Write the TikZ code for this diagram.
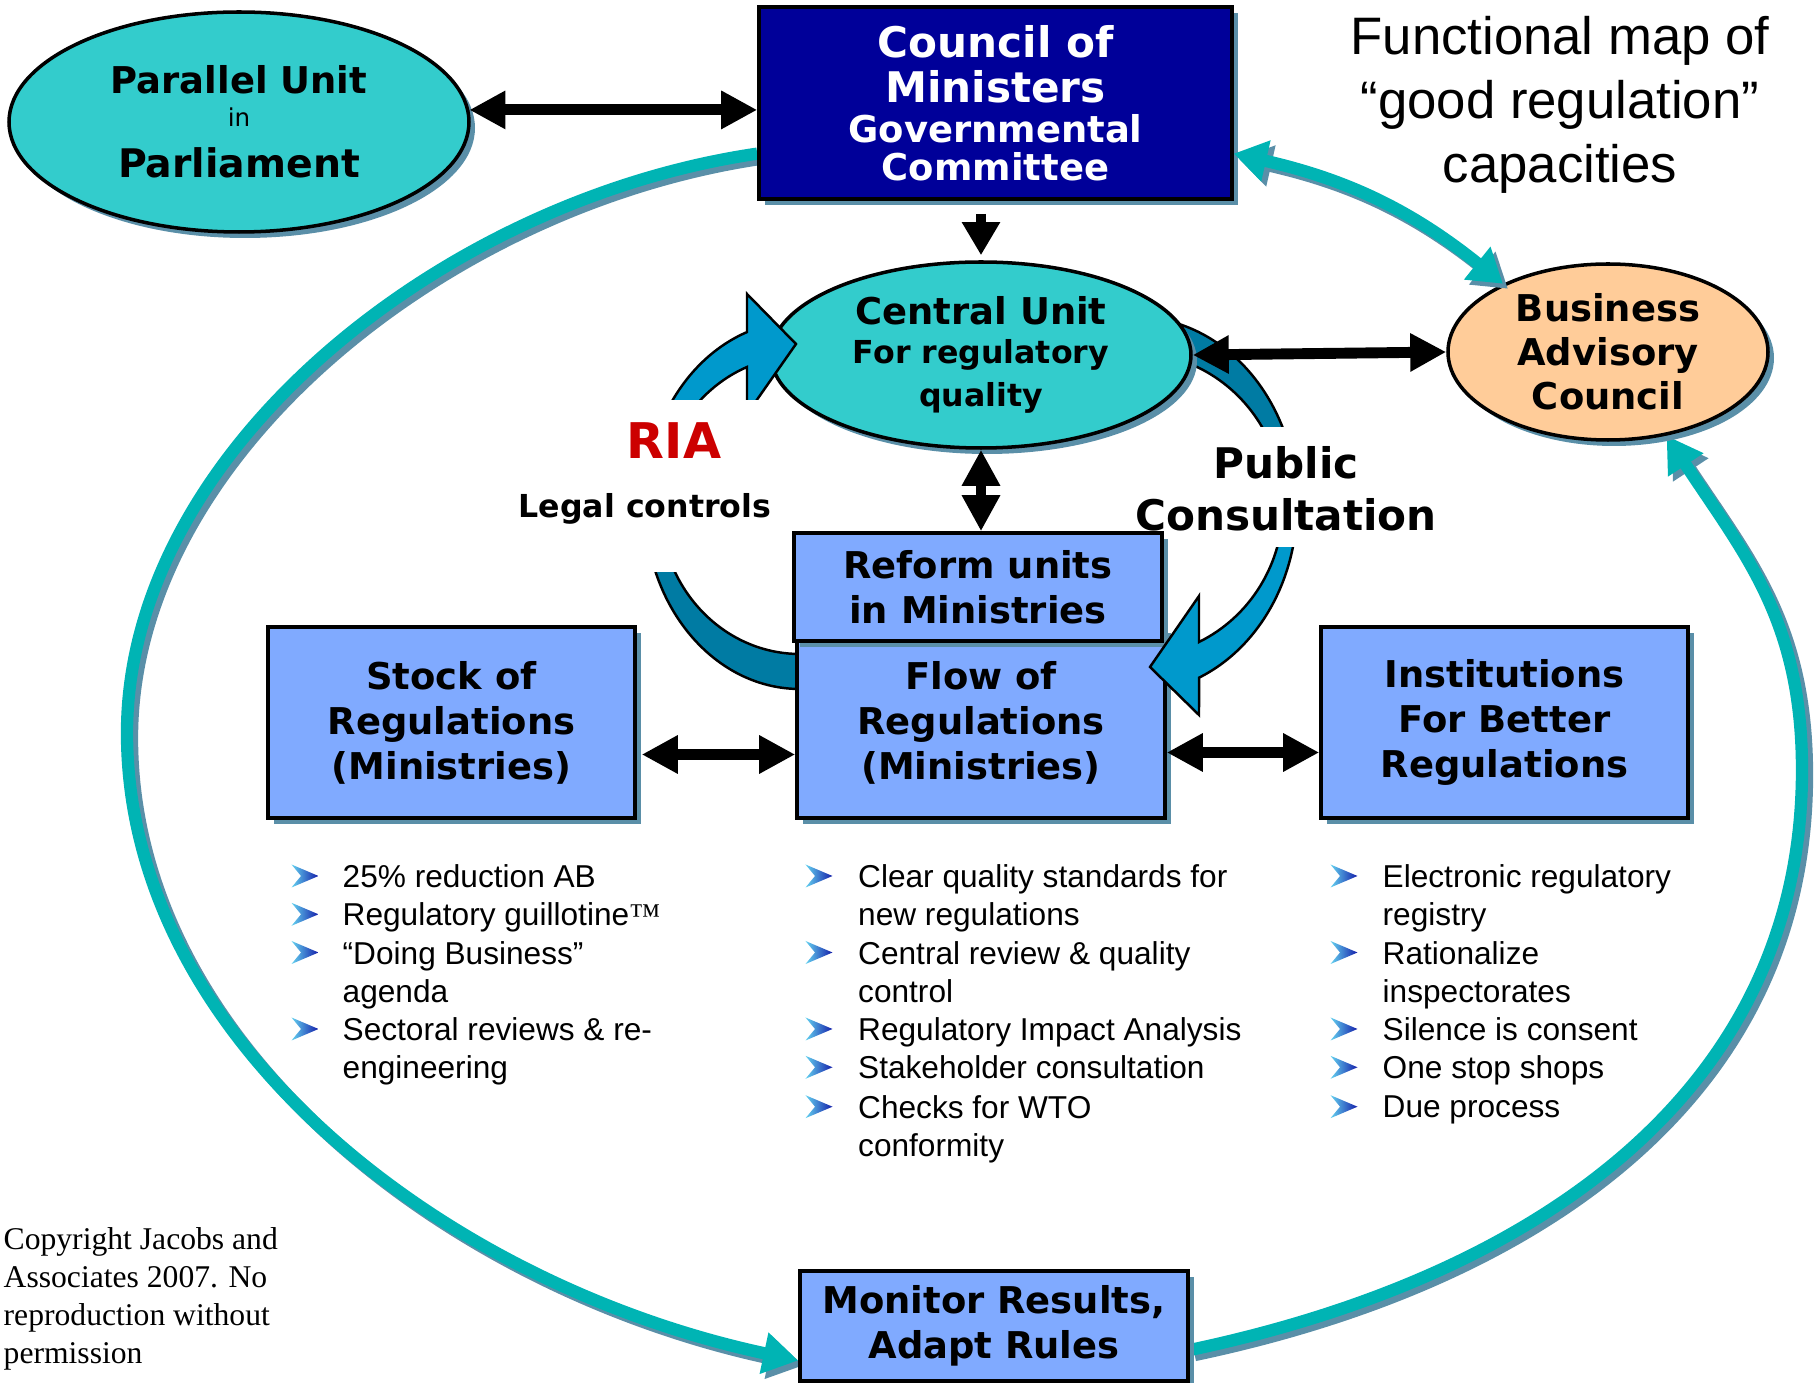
\documentclass[tikz,border=0pt]{standalone}
\usepackage{fontspec}
\setmainfont{Liberation Sans}
\newfontfamily\verdana{DejaVu Sans}
\newfontfamily\timesfont{Liberation Serif}
\usetikzlibrary{arrows.meta,shapes.geometric,shadows,backgrounds}

\definecolor{councilblue}{RGB}{0,0,153}
\definecolor{boxblue}{RGB}{128,170,255}
\definecolor{unitteal}{RGB}{51,204,204}
\definecolor{peach}{RGB}{255,204,153}
\definecolor{loopteal}{RGB}{0,180,180}
\definecolor{shadowblue}{RGB}{90,143,168}
\definecolor{curvelightc}{RGB}{0,153,204}
\definecolor{curvedarkc}{RGB}{0,123,163}
\definecolor{riared}{RGB}{204,0,0}
\definecolor{bulletlight}{RGB}{100,210,240}
\definecolor{bulletdark}{RGB}{20,30,170}

\newcommand{\bulletarrow}[2]{\shade[left color=bulletlight, right color=bulletdark, shift={(#1cm,#2cm)}] (-0.135cm,0.115cm) -- (0.135cm,0cm) -- (-0.135cm,-0.115cm) -- (-0.04cm,0cm) -- cycle;}

\begin{document}
\begin{tikzpicture}[
    box/.style={rectangle, draw=black, line width=1pt, fill=boxblue, inner sep=0pt, align=center,
        font=\verdana\bfseries\fontsize{10.5}{12.8}\selectfont,
        drop shadow={shadow xshift=0.6mm, shadow yshift=-0.6mm, fill=shadowblue, opacity=1}},
    oval/.style={ellipse, draw=black, line width=1pt, fill=unitteal, inner sep=0pt, align=center,
        font=\verdana\bfseries\fontsize{10.5}{12.5}\selectfont,
        drop shadow={shadow xshift=0.6mm, shadow yshift=-0.6mm, fill=shadowblue, opacity=1}},
    sidetext/.style={inner sep=0pt, align=center},
    item/.style={anchor=north west, inner sep=0pt, align=left, font=\fontsize{9}{10.9}\selectfont},
    dblarrow/.style={line width=3.1pt, {Triangle[length=3.6mm,width=3.6mm]}-{Triangle[length=3.6mm,width=3.6mm]}},
    onearrow/.style={line width=3.1pt, -{Triangle[length=3.3mm,width=3.6mm]}},
    looparrow/.style={draw=loopteal, line width=3.5pt, -{Triangle[length=3.5mm,width=4mm]}},
    loopshadow/.style={draw=shadowblue, line width=3.5pt, -{Triangle[length=3.5mm,width=4mm]},
        transform canvas={xshift=0.5mm,yshift=-0.5mm}},
    curvelight/.style={fill=curvelightc, draw=black, line width=0.7pt},
    curvedark/.style={fill=curvedarkc, draw=black, line width=0.7pt}
]
    \useasboundingbox (0cm,0cm) rectangle (18.17cm,-13.83cm);

% curved arrows, back parts
    \begin{scope}
        \clip (5.5cm,-5.73cm) rectangle (8.2cm,-7.2cm);
        \filldraw[curvedark] (8.00cm,-6.89cm) arc[start angle=270, end angle=180, x radius=1.55cm, y radius=1.84cm]
            -- (6.60cm,-5.05cm) arc[start angle=180, end angle=270, x radius=1.40cm, y radius=1.49cm] -- cycle;
    \end{scope}
    \begin{scope}
        \clip (11.0cm,-2.9cm) rectangle (13.3cm,-4.27cm);
        \filldraw[curvedark] (11.35cm,-3.17cm) arc[start angle=90, end angle=0, x radius=1.62cm, y radius=1.88cm]
            -- (12.83cm,-5.05cm) arc[start angle=0, end angle=90, x radius=1.48cm, y radius=1.52cm] -- cycle;
    \end{scope}

% units
    \node[oval, minimum width=4.6cm, minimum height=2.2cm] (parallel) at (2.39cm,-1.22cm)
        {Parallel Unit\\[-3pt]{\mdseries\fontsize{7}{8}\selectfont in}\\[2pt]{\fontsize{11.2}{13}\selectfont Parliament}};
    \node[box, fill=councilblue, text=white, minimum width=4.73cm, minimum height=1.92cm] (council) at (9.955cm,-1.03cm)
        {{\fontsize{12}{13}\selectfont Council of}\\{\fontsize{12}{13}\selectfont Ministers}\\[-1.3pt]Governmental\\[-2pt]Committee};
    \node[oval, minimum width=4.2cm, minimum height=1.86cm] (central) at (9.81cm,-3.55cm)
        {Central Unit\\[-1.4pt]{\fontsize{9}{10}\selectfont For regulatory}\\[-0.4pt]{\fontsize{9}{10}\selectfont quality}};
    \node[oval, fill=peach, minimum width=3.2cm, minimum height=1.76cm] (business) at (16.08cm,-3.52cm)
        {Business\\Advisory\\Council};
    \node[box, minimum width=3.68cm, minimum height=1.91cm] (flow) at (9.81cm,-7.225cm) {Flow of\\Regulations\\(Ministries)};
    \node[box, minimum width=3.68cm, minimum height=1.08cm] (reform) at (9.78cm,-5.87cm) {Reform units\\in Ministries};
    \node[box, minimum width=3.67cm, minimum height=1.91cm] (stock) at (4.515cm,-7.225cm) {Stock of\\Regulations\\(Ministries)};
    \node[box, minimum width=3.67cm, minimum height=1.91cm] (inst) at (15.045cm,-7.225cm) {Institutions\\For Better\\Regulations};
    \node[box, minimum width=3.88cm, minimum height=1.10cm] (monitor) at (9.94cm,-13.26cm) {Monitor Results,\\Adapt Rules};

% texts
    \node[sidetext, text=riared, font=\verdana\bfseries\fontsize{14}{16}\selectfont] (ria) at (6.74cm,-4.41cm) {RIA};
    \node[sidetext, font=\verdana\bfseries\fontsize{9}{11}\selectfont] (legal) at (6.45cm,-5.09cm) {Legal controls};
    \node[sidetext, font=\verdana\bfseries\fontsize{12}{14.8}\selectfont] (public) at (12.86cm,-4.89cm) {Public\\Consultation};
    \node[sidetext, font=\fontsize{15}{18.2}\selectfont] (title) at (15.60cm,-1.05cm) {Functional map of\\“good regulation”\\capacities};

% curved arrows, front parts
    \begin{scope}
        \clip (5.5cm,-2.5cm) rectangle (8.5cm,-4.00cm);
        \filldraw[curvelight] (6.45cm,-5.05cm) arc[start angle=180, end angle=110, x radius=1.55cm, y radius=1.84cm]
            -- (7.47cm,-2.94cm) -- (7.96cm,-3.44cm) -- (7.47cm,-4.14cm) -- (7.47cm,-3.67cm)
            arc[start angle=112.2, end angle=180, x radius=1.40cm, y radius=1.49cm] -- cycle;
    \end{scope}
    \begin{scope}
        \clip (11.0cm,-5.48cm) rectangle (13.3cm,-7.5cm);
        \filldraw[curvelight] (12.97cm,-5.05cm) arc[start angle=0, end angle=-66.7, x radius=1.62cm, y radius=1.88cm]
            -- (11.99cm,-7.15cm) -- (11.50cm,-6.67cm) -- (11.99cm,-5.96cm) -- (11.99cm,-6.42cm)
            arc[start angle=-64.4, end angle=0, x radius=1.48cm, y radius=1.52cm] -- cycle;
    \end{scope}

% black arrows
    \draw[dblarrow] (parallel.3) -- (parallel.3 -| council.west);
    \draw[onearrow, shorten <=0.13cm, shorten >=0.05cm] (council.south -| central.north) -- (central.north);
    \draw[dblarrow] (central.south) -- (central.south |- reform.north);
    \draw[dblarrow] (central.east) -- (business.west);
    \draw[dblarrow, shorten <=0.05cm] ([yshift=-0.32cm]stock.east) -- ([yshift=-0.32cm]stock.east -| flow.west);
    \draw[dblarrow] ([yshift=-0.3cm]flow.east) -- ([yshift=-0.3cm]flow.east -| inst.west);

% teal arrows
    \draw[loopshadow, {Triangle[length=3.3mm,width=4mm]}-{Triangle[length=3.3mm,width=4mm]}] (council.-12) to[bend left=13] (business.147);
    \draw[looparrow, {Triangle[length=3.3mm,width=4mm]}-{Triangle[length=3.3mm,width=4mm]}] (council.-12) to[bend left=13] (business.147);
    \begin{pgfonlayer}{background}
        \draw[loopshadow] (council.192) .. controls (4.40cm,-2.00cm) and (1.27cm,-4.53cm) .. (1.27cm,-7.33cm)
            .. controls (1.27cm,-10.40cm) and (4.45cm,-12.85cm) .. (monitor.190);
        \draw[looparrow] (council.192) .. controls (4.40cm,-2.00cm) and (1.27cm,-4.53cm) .. (1.27cm,-7.33cm)
            .. controls (1.27cm,-10.40cm) and (4.45cm,-12.85cm) .. (monitor.190);
        \draw[loopshadow] (monitor.-7) .. controls (15.23cm,-12.80cm) and (18.02cm,-11.00cm) .. (18.02cm,-7.70cm)
            .. controls (18.02cm,-6.20cm) and (17.45cm,-5.55cm) .. (business.-55);
        \draw[looparrow] (monitor.-7) .. controls (15.23cm,-12.80cm) and (18.02cm,-11.00cm) .. (18.02cm,-7.70cm)
            .. controls (18.02cm,-6.20cm) and (17.45cm,-5.55cm) .. (business.-55);
    \end{pgfonlayer}

% stock list
    \bulletarrow{3.05}{-8.76}
    \node[item] (s1) at (3.42cm,-8.64cm) {25\% reduction AB};
    \bulletarrow{3.05}{-9.143}
    \node[item] (s2) at (3.42cm,-9.02cm) {Regulatory guillotine{\timesfont ™}};
    \bulletarrow{3.05}{-9.525}
    \node[item] (s3) at (3.42cm,-9.405cm) {“Doing Business”\\agenda};
    \bulletarrow{3.05}{-10.29}
    \node[item] (s4) at (3.42cm,-10.17cm) {Sectoral reviews \& re-\\engineering};

% flow list
    \bulletarrow{8.19}{-8.76}
    \node[item] (f1) at (8.575cm,-8.64cm) {Clear quality standards for\\new regulations};
    \bulletarrow{8.19}{-9.525}
    \node[item] (f2) at (8.575cm,-9.405cm) {Central review \& quality\\control};
    \bulletarrow{8.19}{-10.29}
    \node[item] (f3) at (8.575cm,-10.17cm) {Regulatory Impact Analysis};
    \bulletarrow{8.19}{-10.673}
    \node[item] (f4) at (8.575cm,-10.55cm) {Stakeholder consultation};
    \bulletarrow{8.19}{-11.067}
    \node[item] (f5) at (8.575cm,-10.95cm) {Checks for WTO\\conformity};

% institutions list
    \bulletarrow{13.44}{-8.76}
    \node[item] (i1) at (13.82cm,-8.64cm) {Electronic regulatory\\registry};
    \bulletarrow{13.44}{-9.525}
    \node[item] (i2) at (13.82cm,-9.405cm) {Rationalize\\inspectorates};
    \bulletarrow{13.44}{-10.29}
    \node[item] (i3) at (13.82cm,-10.17cm) {Silence is consent};
    \bulletarrow{13.44}{-10.673}
    \node[item] (i4) at (13.82cm,-10.55cm) {One stop shops};
    \bulletarrow{13.44}{-11.067}
    \node[item] (i5) at (13.82cm,-10.95cm) {Due process};

    \node[anchor=north west, inner sep=0pt, align=left, font=\timesfont\fontsize{9}{10.8}\selectfont] (copyright) at (0.03cm,-12.27cm)
        {Copyright Jacobs and\\Associates 2007. No\\reproduction without\\permission};

\end{tikzpicture}
\end{document}
